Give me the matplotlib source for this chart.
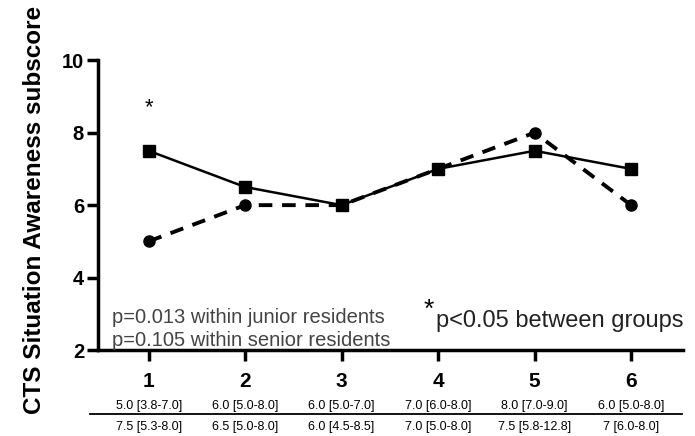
import matplotlib.pyplot as plt
from matplotlib.lines import Line2D

sessions = [1, 2, 3, 4, 5, 6]
junior = [5.0, 6.0, 6.0, 7.0, 8.0, 6.0]
senior = [7.5, 6.5, 6.0, 7.0, 7.5, 7.0]
junior_iqr = ["5.0 [3.8-7.0]", "6.0 [5.0-8.0]", "6.0 [5.0-7.0]",
              "7.0 [6.0-8.0]", "8.0 [7.0-9.0]", "6.0 [5.0-8.0]"]
senior_iqr = ["7.5 [5.3-8.0]", "6.5 [5.0-8.0]", "6.0 [4.5-8.5]",
              "7.0 [5.0-8.0]", "7.5 [5.8-12.8]", "7 [6.0-8.0]"]
star_x = [1]
star_y = [8.7]

plt.rcParams['font.family'] = ['Liberation Sans', 'DejaVu Sans']

fig = plt.figure(figsize=(6.95, 4.36), dpi=100)
ax = fig.add_axes([0.141, 0.197, 0.842, 0.665])

ax.plot(sessions, senior, color='black', lw=1.8, marker='s', ms=9, zorder=3)
ax.plot(sessions, junior, color='black', lw=2.8, ls=(0, (3.5, 2.5)),
        marker='o', ms=8, zorder=3)

for x, y in zip(star_x, star_y):
    ax.text(x, y, '*', ha='center', va='center', fontsize=16)

ax.set_xlim(0.475, 6.54)
ax.set_ylim(2, 10)
ax.set_yticks([2, 4, 6, 8, 10])
ax.set_xticks(sessions)
ax.set_xticklabels([str(s) for s in sessions], fontsize=15, fontweight='bold')
ax.tick_params(axis='y', labelsize=14.5, width=2.5, length=8, pad=2)
ax.tick_params(axis='x', width=2.5, length=8, pad=8)
for lab in ax.get_yticklabels():
    lab.set_fontweight('bold')
ax.spines['top'].set_visible(False)
ax.spines['right'].set_visible(False)
ax.spines['left'].set_linewidth(2.5)
ax.spines['bottom'].set_linewidth(2.5)

ax.set_ylabel('CTS Situation Awareness subscore', fontsize=17.5,
              fontweight='bold', va='center')
ax.yaxis.set_label_coords(-0.108, 0.483)

ax.text(0.024, 0.114, 'p=0.013 within junior residents', transform=ax.transAxes,
        fontsize=14.5, color='#444444', va='center')
ax.text(0.024, 0.034, 'p=0.105 within senior residents', transform=ax.transAxes,
        fontsize=14.5, color='#444444', va='center')
ax.text(0.556, 0.14, '*', transform=ax.transAxes, fontsize=19, va='center')
ax.text(0.578, 0.1, 'p<0.05 between groups', transform=ax.transAxes,
        fontsize=17, color='#222222', va='center')

# median [IQR] table under the x axis
for x, a, b in zip(sessions, junior_iqr, senior_iqr):
    ax.annotate(a, xy=(x, 0), xycoords=('data', 'axes fraction'),
                xytext=(0, -40.3), textcoords='offset points', ha='center',
                va='center', fontsize=9)
    ax.annotate(b, xy=(x, 0), xycoords=('data', 'axes fraction'),
                xytext=(0, -55.4), textcoords='offset points', ha='center',
                va='center', fontsize=9)
fig.add_artist(Line2D([90 / 695, 682 / 695], [1 - 414 / 436, 1 - 414 / 436],
                      color='black', lw=1.3, transform=fig.transFigure))

fig.savefig('out.png', dpi=100)
